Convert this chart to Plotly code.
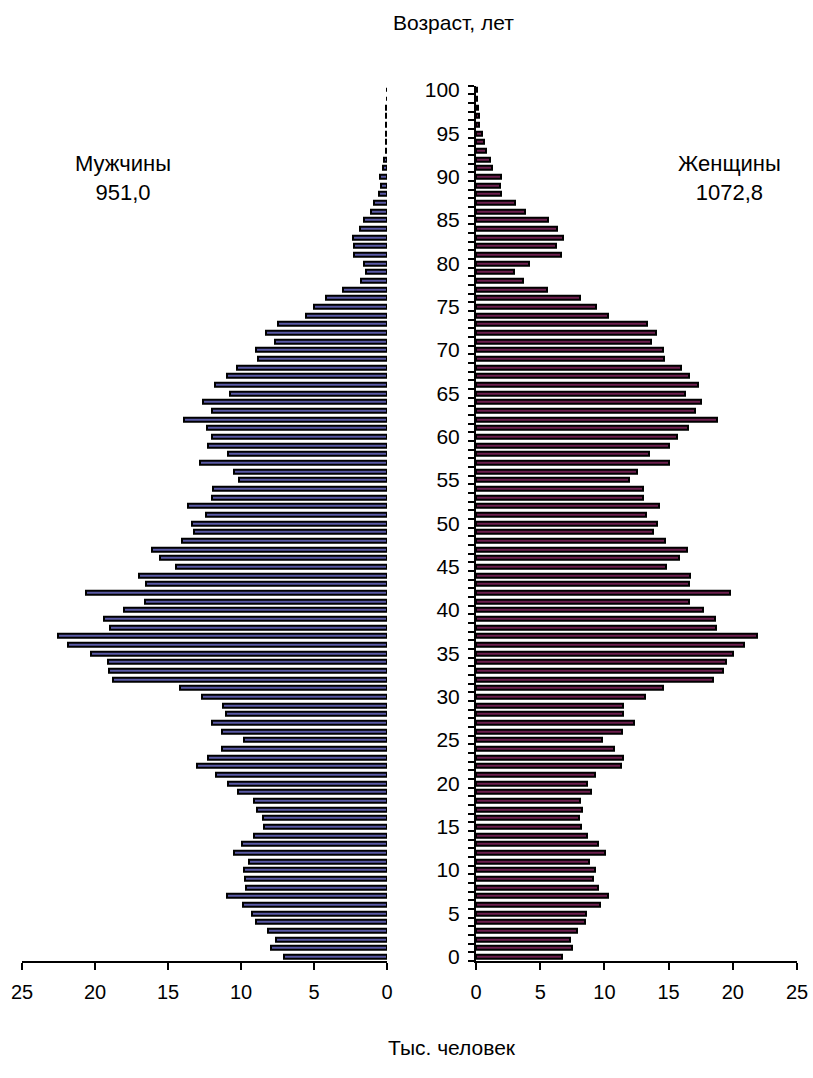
import plotly.graph_objects as go

ages = list(range(0, 101))

male = [7.08, 7.95, 7.63, 8.18, 9.0, 9.27, 9.86, 10.96, 9.68, 9.73,
        9.82, 9.45, 10.5, 9.96, 9.09, 8.4, 8.49, 8.9, 9.14, 10.18,
        10.92, 11.69, 13.01, 12.29, 11.33, 9.82, 11.33, 12.01, 11.05, 11.23,
        12.65, 14.2, 18.77, 19.04, 19.14, 20.27, 21.83, 22.51, 19.0, 19.41,
        17.99, 16.58, 20.64, 16.49, 16.99, 14.43, 15.57, 16.07, 14.07, 13.24,
        13.38, 12.42, 13.66, 11.96, 11.92, 10.14, 10.5, 12.83, 10.87, 12.29,
        11.96, 12.33, 13.93, 11.96, 12.6, 10.78, 11.78, 10.96, 10.27, 8.86,
        9.0, 7.67, 8.31, 7.49, 5.57, 4.98, 4.2, 3.0, 1.78, 1.42,
        1.6, 2.24, 2.24, 2.33, 1.83, 1.6, 1.1, 0.87, 0.55, 0.41,
        0.46, 0.27, 0.23, 0.1, 0.08, 0.07, 0.06, 0.05, 0.04, 0.03, 0.02]

female = [6.7, 7.48, 7.32, 7.84, 8.46, 8.57, 9.66, 10.28, 9.5, 9.14,
          9.29, 8.83, 10.02, 9.5, 8.67, 8.2, 8.0, 8.26, 8.1, 8.93,
          8.67, 9.24, 11.32, 11.47, 10.75, 9.81, 11.37, 12.3, 11.42, 11.47,
          13.14, 14.59, 18.48, 19.26, 19.47, 19.99, 20.87, 21.91, 18.69, 18.64,
          17.7, 16.56, 19.78, 16.61, 16.67, 14.8, 15.84, 16.46, 14.69, 13.76,
          14.12, 13.24, 14.23, 13.03, 12.98, 11.94, 12.51, 15.06, 13.45, 15.06,
          15.63, 16.51, 18.75, 17.08, 17.55, 16.3, 17.29, 16.61, 15.94, 14.64,
          14.59, 13.6, 14.02, 13.34, 10.28, 9.35, 8.1, 5.56, 3.69, 2.96,
          4.15, 6.59, 6.23, 6.75, 6.28, 5.61, 3.79, 3.06, 1.97, 1.87,
          1.97, 1.25, 1.09, 0.78, 0.62, 0.44, 0.26, 0.21, 0.12, 0.08, 0.05]

x_ticks = [0, 5, 10, 15, 20, 25]
y_ticks = list(range(0, 101, 5))

title_top = "Возраст, лет"
title_bottom = "Тыс. человек"
male_label = "Мужчины<br>951,0"
female_label = "Женщины<br>1072,8"

W, H = 813, 1078
FONT = "Arial, 'Liberation Sans', sans-serif"


def px(x):
    return x / W


def py(y):
    return 1 - y / H


fig = go.Figure()
fig.add_trace(go.Bar(
    x=male, y=ages, orientation="h", xaxis="x", yaxis="y",
    width=0.47, marker=dict(color="#5a5aa6", line=dict(color="black", width=2)),
    showlegend=False, hoverinfo="skip"))
fig.add_trace(go.Bar(
    x=female, y=ages, orientation="h", xaxis="x2", yaxis="y",
    width=0.47, marker=dict(color="#6e1f4f", line=dict(color="black", width=2)),
    showlegend=False, hoverinfo="skip"))

axis_common = dict(showgrid=False, zeroline=False, showline=True, linecolor="black",
                   linewidth=2, ticks="outside", ticklen=7, tickwidth=2, tickcolor="black",
                   tickvals=x_ticks, automargin=False, ticklabelstandoff=5,
                   tickfont=dict(size=20, color="black", family=FONT))

fig.update_layout(
    width=W, height=H,
    margin=dict(l=0, r=0, t=0, b=0, pad=0, autoexpand=False),
    paper_bgcolor="white", plot_bgcolor="white",
    font=dict(family=FONT, size=21, color="black"),
    bargap=0,
    xaxis=dict(domain=[px(22), px(387)], range=[25, 0], anchor="y", **axis_common),
    xaxis2=dict(domain=[px(476), px(797)], range=[0, 25], anchor="y", **axis_common),
    yaxis=dict(domain=[py(961), py(85.7)], range=[-0.5, 100.5], anchor="x2",
               showgrid=False, zeroline=False, showline=True, linecolor="black", linewidth=2,
               tickvals=y_ticks, ticks="", ticklabelstandoff=10, automargin=False,
               tickfont=dict(size=21, color="black", family=FONT),
               minor=dict(ticks="outside", tick0=0.5, dtick=1, ticklen=6, tickwidth=2,
                          tickcolor="black", showgrid=False)),
    annotations=[
        dict(text=title_top, x=px(453), y=py(22), xref="paper", yref="paper",
             showarrow=False, xanchor="center", yanchor="middle", font=dict(size=21)),
        dict(text=title_bottom, x=px(452), y=py(1047), xref="paper", yref="paper",
             showarrow=False, xanchor="center", yanchor="middle", font=dict(size=21)),
        dict(text=male_label, x=px(123), y=py(178), xref="paper", yref="paper",
             showarrow=False, xanchor="center", yanchor="middle", font=dict(size=22)),
        dict(text=female_label, x=px(729), y=py(178), xref="paper", yref="paper",
             showarrow=False, xanchor="center", yanchor="middle", font=dict(size=22)),
    ],
)

# remove the default 8px page margin so the 813x1078 figure fills the window exactly
fig.write_html("out.html", config={"displayModeBar": False},
               post_script="document.body.style.margin='0';")
